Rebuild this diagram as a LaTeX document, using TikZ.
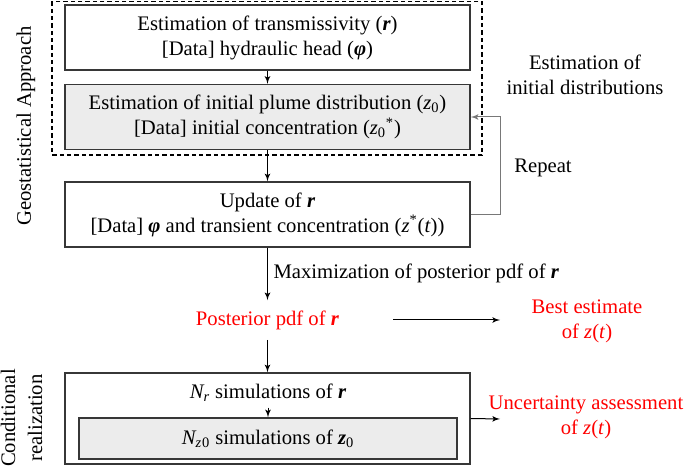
\documentclass[tikz,border=0pt]{standalone}
\usepackage{fontspec}
\setmainfont{Liberation Serif}
\usepackage{tikz}
\usetikzlibrary{arrows, positioning}

\definecolor{boxgray}{RGB}{236,236,236}
\definecolor{edgegray}{RGB}{55,55,55}
\definecolor{loopgray}{RGB}{120,120,120}

\newcommand{\rv}{\textbf{\textit{r}}}
\newcommand{\phiv}{\textbf{\textit{φ}}}

\begin{document}
\begin{tikzpicture}[x=0.6pt, y=-0.6pt,
  font=\fontsize{12.4}{15}\selectfont,
  block/.style={draw=edgegray, line width=0.8pt, minimum width=243pt, minimum height=39pt, align=center, inner sep=0pt},
  shaded/.style={block, fill=boxgray},
  redtext/.style={text=red, align=center},
  arr/.style={draw, line width=0.6pt, -latex'}]

\useasboundingbox (0,0) rectangle (685,468);

\node [block                                ] (est)   at (267.5,37.5)  {Estimation of transmissivity (\rv)\\{}[Data] hydraulic head (\phiv)};
\node [shaded                               ] (plume) at (267.5,117)   {Estimation of initial plume distribution (\textit{z}\textsubscript{0})\\{}[Data] initial concentration (\textit{z}\textsubscript{0}\textsuperscript{*})};
\node [block                                ] (upd)   at (267.5,214.5) {Update of \rv\\{}[Data] \phiv\ and transient concentration (\textit{z}\textsuperscript{*}(\textit{t}))};
\node [redtext, minimum height=23.4pt, inner sep=0pt] (post) at (267.5,320) {Posterior pdf of \rv};
\node [block  , minimum height=54.6pt       ] (cond)  at (267.5,418.5) {};
\node [draw=none                            ] (nr)    at (268,393)     {\textit{N\textsubscript{r}} simulations of \rv};
\node [shaded , minimum width=226.8pt, minimum height=24.6pt] (sim) at (268,438.5) {\textit{N\textsubscript{z}}\textsubscript{0} simulations of \textbf{\textit{z}}\textsubscript{0}};

\node [align=center                         ] (init)  at (585,75)      {Estimation of\\initial distributions};
\node [                                     ] (rep)   at (543,168)     {Repeat};
\node [redtext                              ] (best)  at (587,321)     {Best estimate\\of \textit{z}(\textit{t})};
\node [redtext                              ] (unc)   at (586,417)     {Uncertainty assessment\\of \textit{z}(\textit{t})};

\node [rotate=90                            ] (geo)   at (26,126)      {Geostatistical Approach};
\node [rotate=90, align=center, font=\fontsize{12.4}{16.2}\selectfont] (real) at (21.5,418) {Conditional\\realization};

\coordinate (bs) at (393,320);
\coordinate (be) at (500,320);
\coordinate (ue) at (500,419);

% dashed frame round the geostatistical part
\draw [dashed, line width=0.7pt, dash pattern=on 2.6pt off 1.8pt] (52,1.5) rectangle (482,155);

\path (est.south)   edge [arr] (plume.north);
\path (plume.south) edge [arr] (upd.north);
\path (upd.south)   edge [arr] node[right] {Maximization of posterior pdf of \rv} (post.north);
\path (post.south)  edge [arr] (cond.north);
\path (nr.south)    edge [arr] (sim.north);
\path (bs)          edge [arr] (be);
\path (cond.east)   edge [arr] (ue);

\draw [arr, draw=loopgray] (upd.east) -- ++(30,0) |- (plume.east);

\end{tikzpicture}
\end{document}
